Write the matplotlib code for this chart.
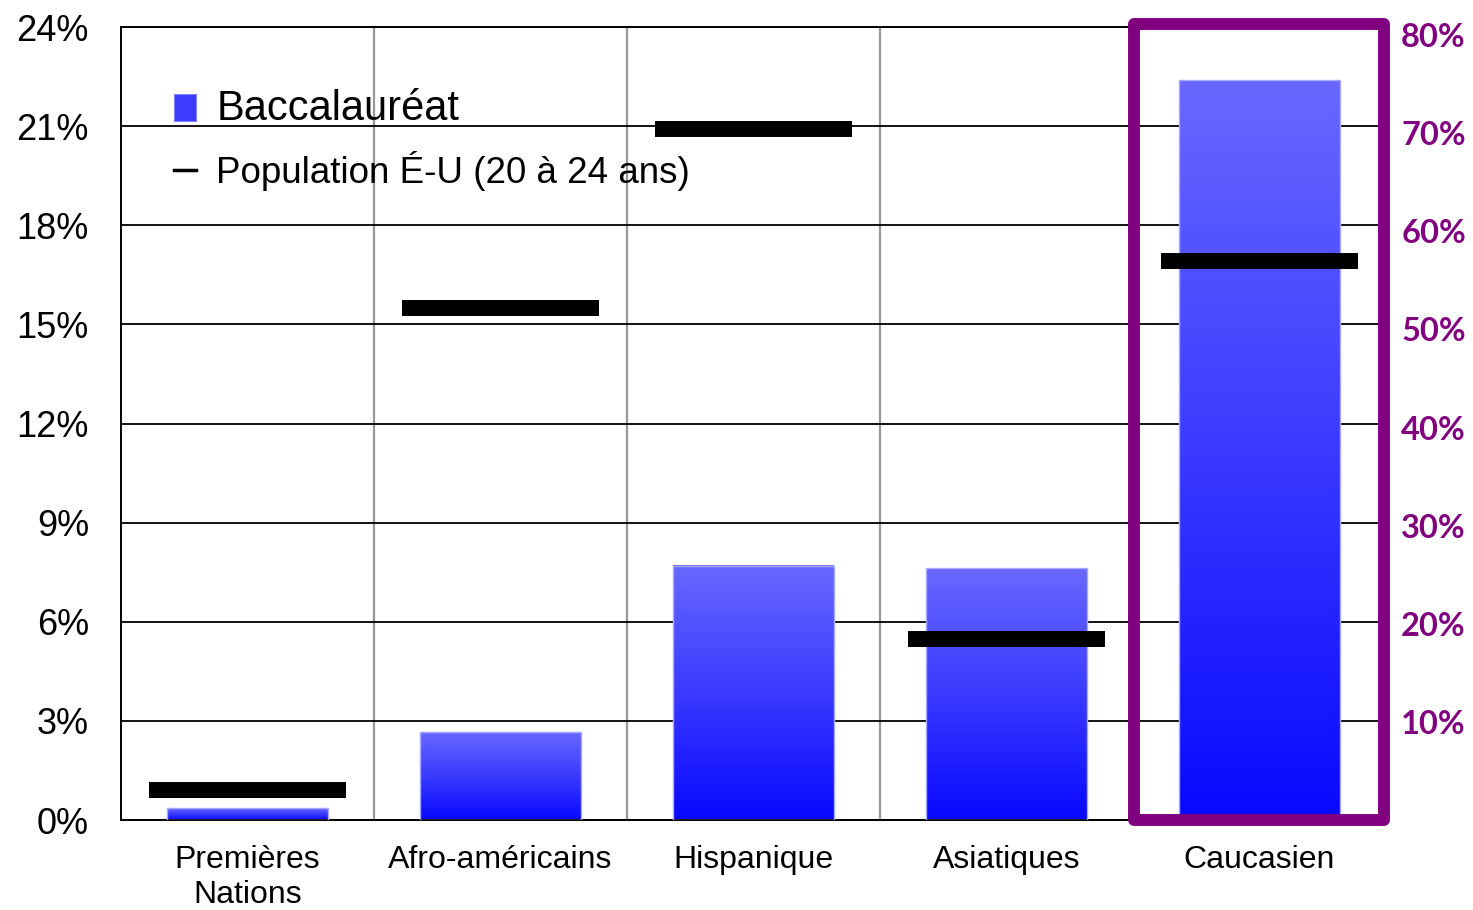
import numpy as np
import matplotlib
matplotlib.use("Agg")
import matplotlib.pyplot as plt
from matplotlib.colors import LinearSegmentedColormap
from matplotlib.patches import Rectangle, Patch
from matplotlib.lines import Line2D

# ---------------- data ----------------
categories = ["Premières\nNations", "Afro-américains", "Hispanique", "Asiatiques", "Caucasien"]
# first four groups read on the left axis (%)
bac_left = [0.36, 2.66, 7.7, 7.62]
pop_left = [0.9, 15.5, 20.9, 5.48]
# Caucasien read on the right axis (%)
bac_right = [75.4]
pop_right = [57.0]
left_ticks = [0, 3, 6, 9, 12, 15, 18, 21, 24]
right_ticks = [10, 20, 30, 40, 50, 60, 70, 80]
legend_labels = ["Baccalauréat", "Population É-U (20 à 24 ans)"]

# ---------------- style ----------------
PURPLE = "#800080"
grad = LinearSegmentedColormap.from_list("g", ["#0808ff", "#3a3aff", "#6868ff"])
BAR_W = 0.635
POP_W = 0.78

fig = plt.figure(figsize=(14.73, 9.10), dpi=100)
ax = fig.add_axes([0.0821, 0.0989, 0.8588, 0.8714])
ax2 = ax.twinx()

ax.set_xlim(-0.5, 4.5)
ax.set_ylim(0, 24)
ax2.set_ylim(0, 80 * 793 / 785)

def gradient_bars(axis, xs, heights):
    bars = axis.bar(xs, heights, width=BAR_W, facecolor="none",
                    edgecolor="#a8a8ff", linewidth=1.0, zorder=3)
    g = np.linspace(0, 1, 256).reshape(-1, 1)
    for b in bars:
        x0, w, h = b.get_x(), b.get_width(), b.get_height()
        axis.imshow(g, origin="lower", cmap=grad, aspect="auto",
                    extent=[x0, x0 + w, 0, h], zorder=2, interpolation="bicubic")
    return bars

x_left = np.arange(len(bac_left))
x_right = np.arange(len(bac_left), len(categories))

gradient_bars(ax, x_left, bac_left)
gradient_bars(ax2, x_right, bac_right)

ax.hlines(pop_left, x_left - POP_W / 2, x_left + POP_W / 2, colors="black",
          linewidth=11.5, zorder=4)
ax2.hlines(pop_right, x_right - POP_W / 2, x_right + POP_W / 2, colors="black",
           linewidth=11.5, zorder=4)

# restore limits after imshow
ax.set_xlim(-0.5, 4.5)
ax.set_ylim(0, 24)
ax2.set_ylim(0, 80 * 793 / 785)

# grid
ax.set_yticks(left_ticks)
ax.set_yticklabels([f"{v}%" for v in left_ticks], fontsize=26,
                   family="Liberation Sans")
ax.yaxis.grid(True, color="black", linewidth=1.3)
ax.set_xticks(np.arange(len(categories)))
ax.set_xticklabels(categories, fontsize=23, family="Liberation Sans",
                   linespacing=1.2)
ax.set_xticks(np.arange(len(categories) - 1) + 0.5, minor=True)
ax.xaxis.grid(True, which="minor", color="#999999", linewidth=1.6)
ax.set_axisbelow(True)
ax.tick_params(axis="y", length=0, pad=23)
ax.tick_params(axis="x", which="major", length=0, pad=18)
ax.tick_params(axis="x", which="minor", length=0)

for s in ["left", "top", "bottom"]:
    ax.spines[s].set_color("black")
    ax.spines[s].set_linewidth(1.4)
ax.spines["right"].set_visible(False)
for s in ax2.spines.values():
    s.set_visible(False)

ax2.set_yticks(right_ticks)
ax2.set_yticklabels([f"{v}%" for v in right_ticks], fontsize=23.5,
                    family="Lato", fontweight="bold", color=PURPLE)
ax2.tick_params(axis="y", length=0, pad=11)

# highlight box around Caucasien
box = Rectangle((3.504, 0.015), 0.988, 24.1 - 0.015, transform=ax.transData,
                fill=False, edgecolor=PURPLE, linewidth=8.6, clip_on=False,
                zorder=10, joinstyle="round")
ax2.add_patch(box)

# legend
handles = [Patch(facecolor="#3c3cff", edgecolor="#8080ff", linewidth=0.8),
           Line2D([], [], color="black", linewidth=2.5)]
leg = ax.legend(handles, legend_labels, loc="upper left",
                bbox_to_anchor=(0.042, 0.922), frameon=False,
                handlelength=0.6, handleheight=0.75, handletextpad=0.55,
                labelspacing=0.6, borderpad=0, borderaxespad=0,
                prop={"family": "Liberation Sans", "size": 26.5})
leg.get_texts()[0].set_fontsize(30)
leg.get_texts()[1].set_fontsize(26.5)
leg.set_zorder(6)

fig.savefig("out.png", dpi=100)
